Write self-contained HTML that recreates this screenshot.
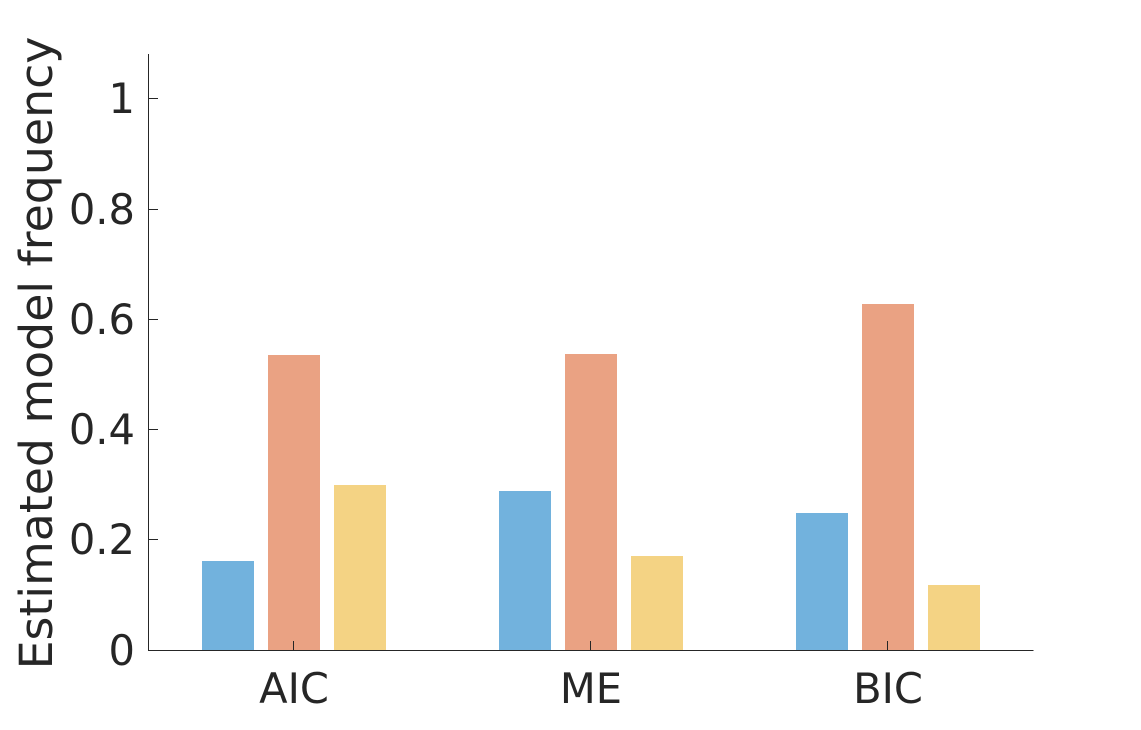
<!DOCTYPE html>
<html>
<head>
<meta charset="utf-8">
<title>Estimated model frequency</title>
<style>
html,body{margin:0;padding:0;background:#fff;width:1141px;height:730px;overflow:hidden}
svg{display:block}
text{font-family:"DejaVu Sans","Liberation Sans",sans-serif;fill:#262626}
</style>
</head>
<body>
<svg id="chart" width="1141" height="730" viewBox="0 0 1141 730" xmlns="http://www.w3.org/2000/svg"></svg>
<script>
const categories = ['AIC', 'ME', 'BIC'];
const seriesBlue = [0.162, 0.288, 0.248];
const seriesSalmon = [0.535, 0.537, 0.628];
const seriesYellow = [0.299, 0.170, 0.118];
const yTickValues = [0, 0.2, 0.4, 0.6, 0.8, 1];
const yTickLabels = ['0', '0.2', '0.4', '0.6', '0.8', '1'];
const yAxisTitle = 'Estimated model frequency';

const NS = 'http://www.w3.org/2000/svg';
const svg = document.getElementById('chart');
const yScale = v => 650.2 - v * 551.5;
const xScale = i => 294 + i * 297;
const axisColor = '#262626';

function make(tag, attrs, parent) {
  const el = document.createElementNS(NS, tag);
  for (const k in attrs) el.setAttribute(k, attrs[k]);
  parent.appendChild(el);
  return el;
}

const seriesList = [
  {key: 'blue', values: seriesBlue, color: '#72B2DD', offset: -66},
  {key: 'salmon', values: seriesSalmon, color: '#EAA283', offset: 0},
  {key: 'yellow', values: seriesYellow, color: '#F4D384', offset: 66}
];
const barWidth = 52;

seriesList.forEach(s => {
  s.values.forEach((v, i) => {
    const top = Math.round(yScale(v));
    const bar = make('rect', {
      x: xScale(i) + s.offset - barWidth / 2,
      y: top,
      width: barWidth,
      height: 650 - top,
      fill: s.color
    }, svg);
    
    
  });
});

const yAxis = make('line', {x1: 148.5, y1: 54, x2: 148.5, y2: 651, stroke: axisColor, 'stroke-width': 1}, svg);



const xAxis = make('line', {x1: 148, y1: 650.5, x2: 1033.5, y2: 650.5, stroke: axisColor, 'stroke-width': 1}, svg);



yTickValues.forEach((v, i) => {
  const y = Math.floor(yScale(v)) + 0.5;
  if (v !== 0) {
    const tick = make('line', {x1: 148.5, y1: y, x2: 158, y2: y, stroke: axisColor, 'stroke-width': 1}, svg);
    
    
  }
  const label = make('text', {x: 135, y: y + 14.5, 'text-anchor': 'end', 'font-size': 41.6}, svg);
  label.textContent = yTickLabels[i];
  
  
});

categories.forEach((c, i) => {
  const x = Math.round(xScale(i)) - 0.5;
  const tick = make('line', {x1: x, y1: 641, x2: x, y2: 650.5, stroke: axisColor, 'stroke-width': 1}, svg);
  
  
  const label = make('text', {x: xScale(i), y: 703, 'text-anchor': 'middle', 'font-size': 41.6}, svg);
  label.textContent = c;
  
  
});

const title = make('text', {
  x: 0, y: 0, 'text-anchor': 'middle', 'font-size': 45.8,
  transform: 'translate(52 353) rotate(-90)'
}, svg);
title.textContent = yAxisTitle;


</script>
</body>
</html>
